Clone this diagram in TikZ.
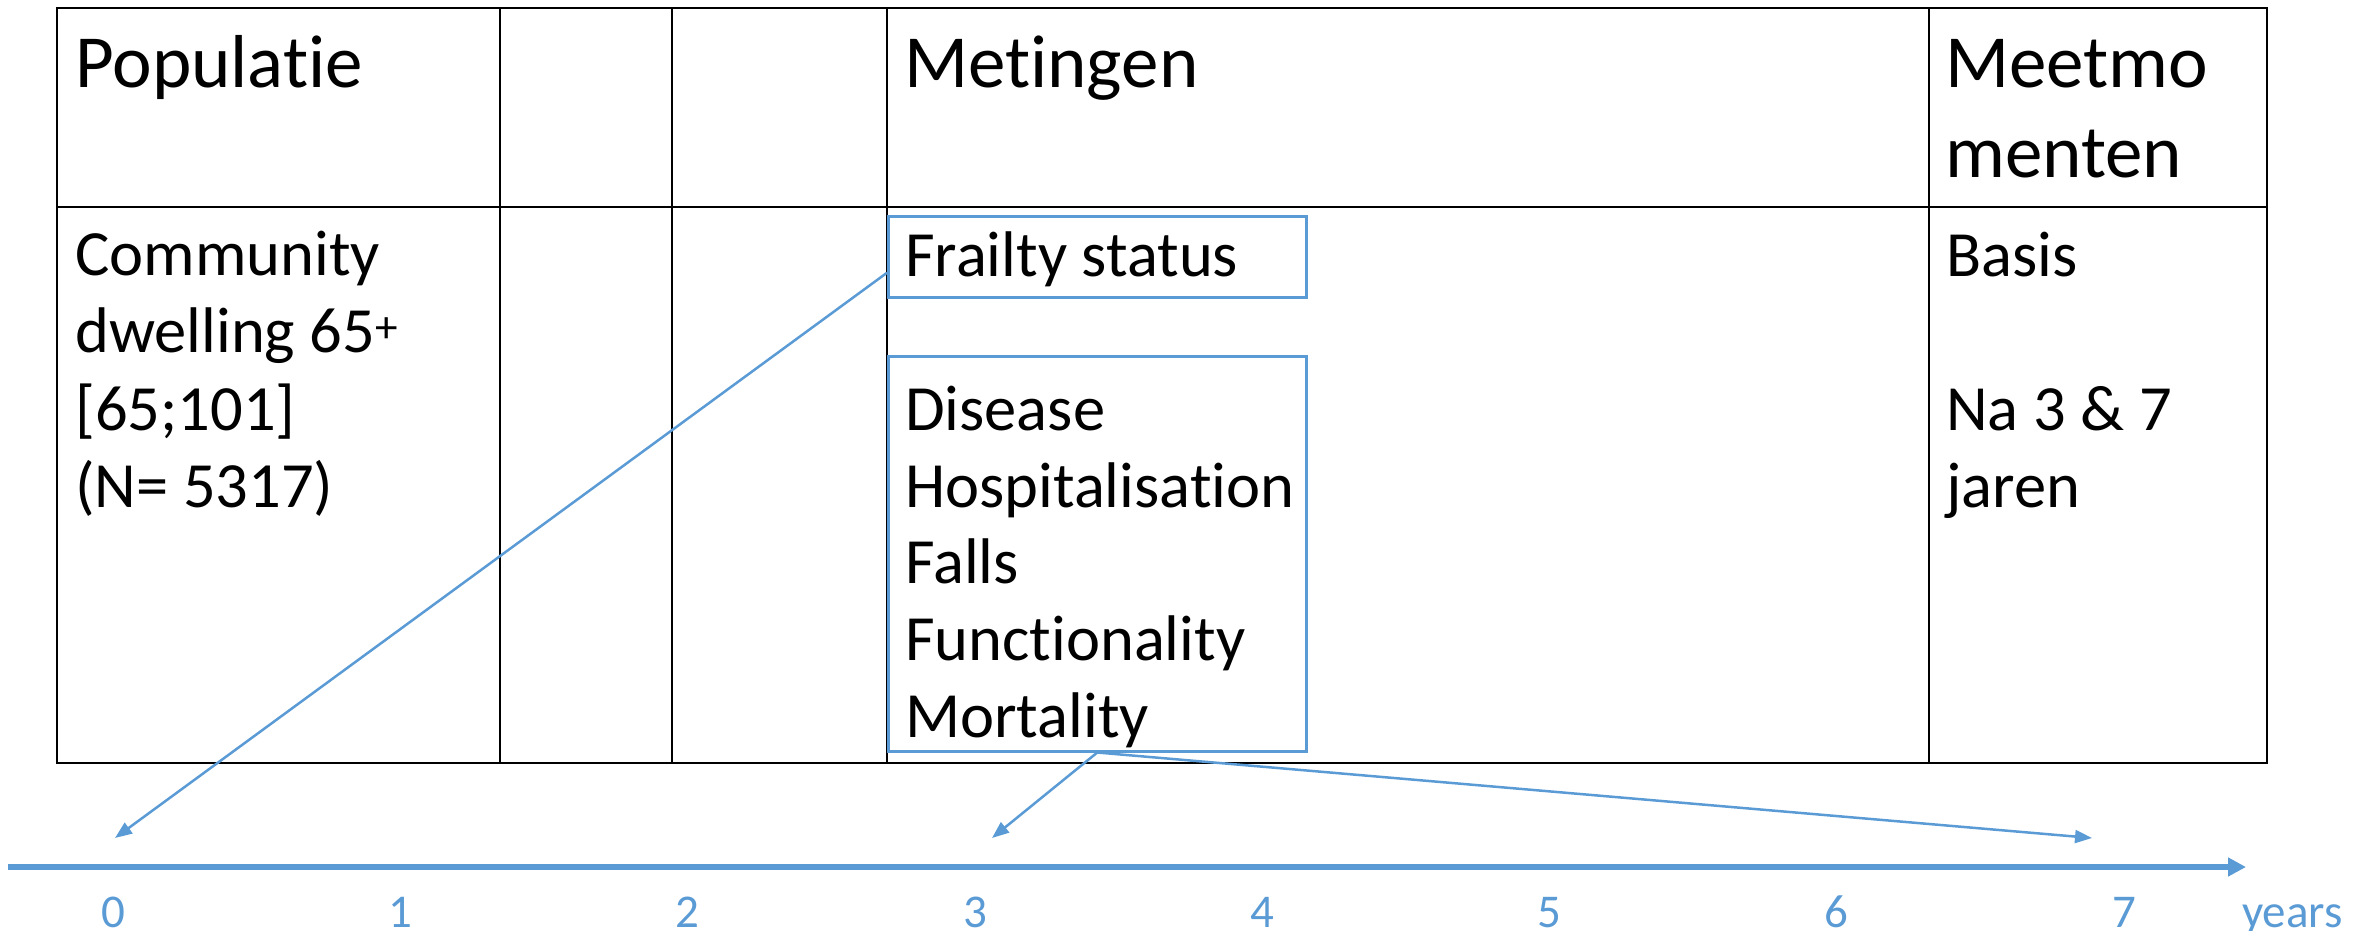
\documentclass[tikz,border=0pt]{standalone}
\usepackage{fontspec}
\setmainfont{Carlito}[Ligatures={NoCommon,NoContextual}]
\usetikzlibrary{arrows.meta}
\definecolor{accent}{HTML}{5B9BD5}
\begin{document}
\begin{tikzpicture}[x=1pt,y=-1pt,
  tabline/.style={line width=2.7pt, draw=black},
  bluebox/.style={draw=accent, line width=2.5pt, inner sep=0pt, anchor=north west},
  link/.style={draw=accent, line width=2.5pt, -{Triangle[length=17pt,width=13pt]}},
  headtxt/.style={anchor=base west, inner sep=0pt, font=\fontsize{75}{89}\selectfont},
  bodytxt/.style={anchor=base west, inner sep=0pt, font=\fontsize{64.5}{77}\selectfont},
  ticktxt/.style={anchor=base, inner sep=0pt, text=accent, font=\fontsize{47}{56}\selectfont}
]
\useasboundingbox (0,0) rectangle (2369,931);

% table grid
\draw[tabline] (57,8) rectangle (2267,763);
\draw[tabline] (57,207) -- (2267,207);
\foreach \cx in {500,672,887,1929}
  \draw[tabline] (\cx,8) -- (\cx,763);

% column headers
\node[headtxt] (hpop)   at (75,88)    {Populatie};
\node[headtxt] (hmet)   at (904,88)   {Metingen};
\node[headtxt] (hmeet1) at (1945,88)  {Meetmo};
\node[headtxt] (hmeet2) at (1945,178) {menten};

% population cell
\node[bodytxt] (pop1) at (75,275) {Community};
\node[bodytxt] (pop2) at (75,352) {dwelling 65\textsuperscript{+}};
\node[bodytxt] (pop3) at (75,430) {[65;101]};
\node[bodytxt] (pop4) at (75,507) {(N= 5317)};

% measurement boxes
\node[bluebox, minimum width=418pt, minimum height=81pt]  (frail) at (887,215) {};
\node[bluebox, minimum width=418pt, minimum height=395pt] (outc)  at (887,355) {};

\node[bodytxt] (m1) at (905,276) {Frailty status};
\node[bodytxt] (m2) at (905,430) {Disease};
\node[bodytxt] (m3) at (905,507) {Hospitalisation};
\node[bodytxt] (m4) at (905,583) {Falls};
\node[bodytxt] (m5) at (905,660) {Functionality};
\node[bodytxt] (m6) at (905,737) {Mortality};

% measurement moments
\node[bodytxt] (b1) at (1946,276) {Basis};
\node[bodytxt] (b2) at (1946,430) {Na 3 \& 7};
\node[bodytxt] (b3) at (1946,507) {jaren};

% time axis
\coordinate (axS) at (8,867);
\coordinate (axE) at (2246,867);
\draw[accent, line width=6pt, -{Triangle[length=18pt,width=18pt]}] (axS) -- (axE);
\foreach \k in {0,...,7}
  \node[ticktxt] (tick\k) at ({113+287.3*\k},927) {\k};
\node[ticktxt, anchor=base west] (yrs) at (2242,927) {years};

% arrow targets on the axis
\coordinate (t0) at (115,838);
\coordinate (t3) at (992,838);
\coordinate (t7) at (2092,838);

\draw[link] ([yshift=-16pt]frail.west) -- (t0);
\draw[link] (outc.south) -- (t3);
\draw[link] (outc.south) -- (t7);
\end{tikzpicture}
\end{document}
